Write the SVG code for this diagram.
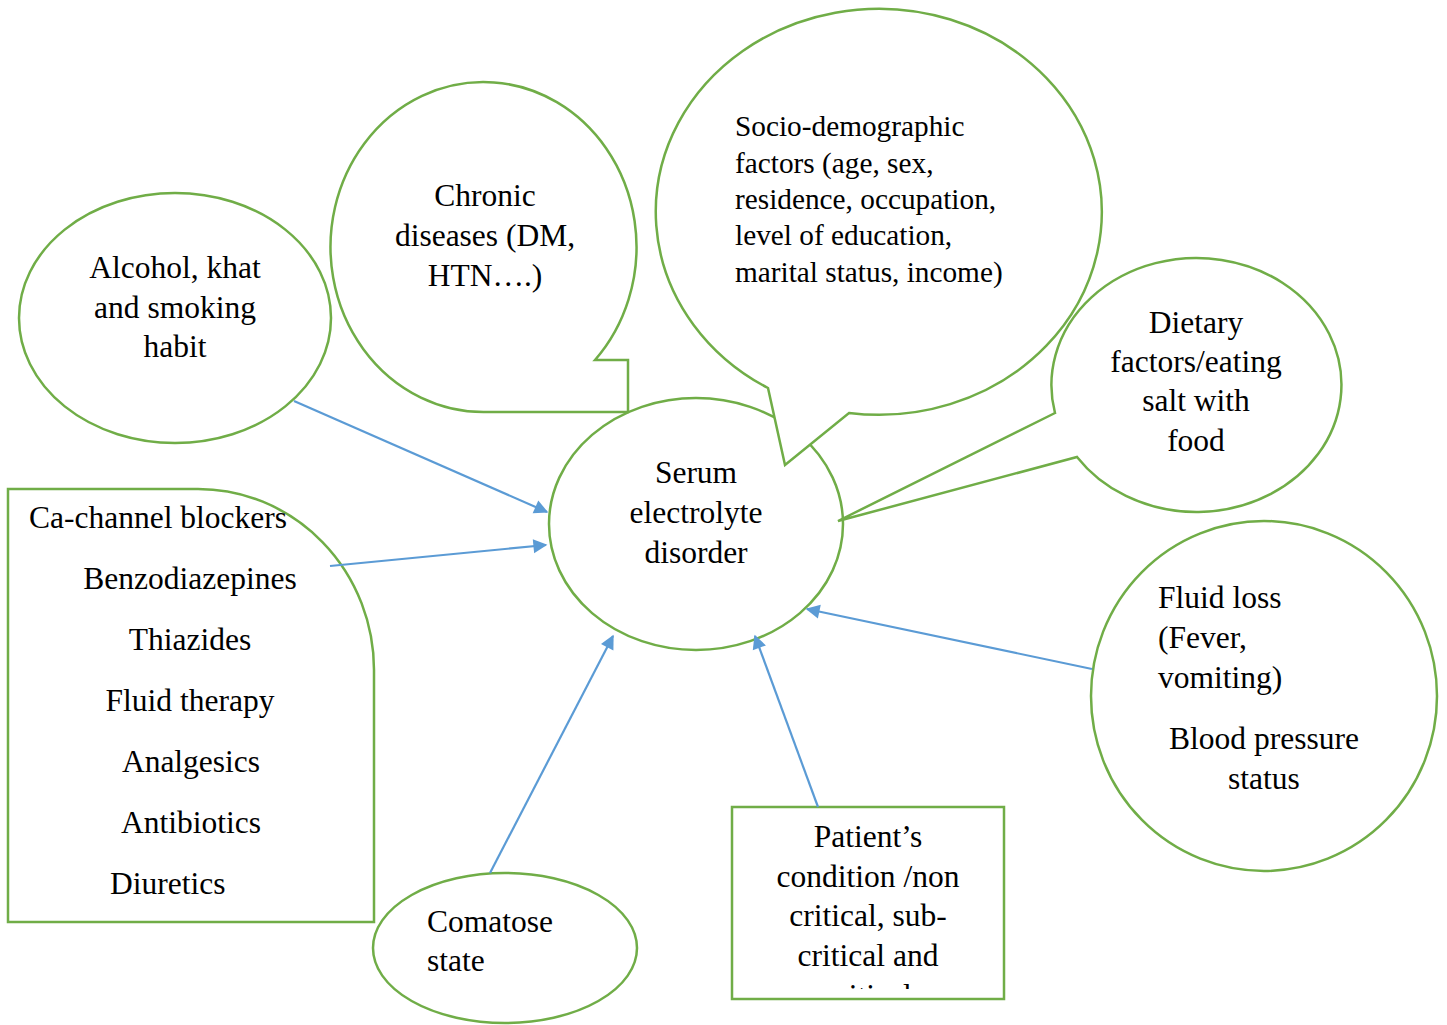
<svg xmlns="http://www.w3.org/2000/svg" width="1447" height="1025" viewBox="0 0 1447 1025">
<style>
.n{fill:#fff;stroke:#70AD47;stroke-width:2.5}
.t{font-family:"Liberation Serif","Times New Roman",serif;font-size:31.5px;fill:#000}
.s{font-size:29.3px}
.c{text-anchor:middle}
.e{stroke:#5B9BD5;stroke-width:2.2;fill:none;marker-end:url(#ah)}
</style>
<defs>
<marker id="ah" viewBox="0 0 10 10" refX="9" refY="5" markerWidth="8" markerHeight="7" markerUnits="userSpaceOnUse" orient="auto" style="overflow:visible">
<path d="M0,0 L10,5 L0,10 z" fill="#5B9BD5" transform="scale(2) translate(-4.5,-2.5)"/>
</marker>
<clipPath id="pc"><rect x="732" y="807" width="272" height="182"/></clipPath>
</defs>
<rect width="1447" height="1025" fill="#fff"/>
<g id="serum">
<ellipse class="n" cx="696" cy="524" rx="147" ry="126"/>
<text class="t c" x="696" y="483">Serum</text>
<text class="t c" x="696" y="523">electrolyte</text>
<text class="t c" x="696" y="563">disorder</text>
</g>
<g id="chronic">
<path class="n" d="M595,360 L628,360 L628,412 L485,412 A153,165 0 1 1 595,360 Z"/>
<text class="t c" x="485" y="206">Chronic</text>
<text class="t c" x="485" y="246">diseases (DM,</text>
<text class="t c" x="485" y="286">HTN….)</text>
</g>
<g id="socio">
<path class="n" d="M768,388 L785,465 L849,413 A223,203 0 1 0 768,388 Z"/>
<text class="t s" x="735" y="136">Socio-demographic</text>
<text class="t s" x="735" y="173">factors (age, sex,</text>
<text class="t s" x="735" y="209">residence, occupation,</text>
<text class="t s" x="735" y="245">level of education,</text>
<text class="t s" x="735" y="282">marital status, income)</text>
</g>
<g id="dietary">
<path class="n" d="M1055,413 L838,521 L1077,457 A145,127 0 1 0 1055,413 Z"/>
<text class="t c" x="1196" y="333">Dietary</text>
<text class="t c" x="1196" y="372">factors/eating</text>
<text class="t c" x="1196" y="411">salt with</text>
<text class="t c" x="1196" y="451">food</text>
</g>
<g id="alcohol">
<ellipse class="n" cx="175" cy="318" rx="156" ry="125"/>
<text class="t c" x="175" y="278">Alcohol, khat</text>
<text class="t c" x="175" y="318">and smoking</text>
<text class="t c" x="175" y="357">habit</text>
</g>
<g id="drugs">
<path class="n" d="M8,489 L198,489 A176,181 0 0 1 374,670 L374,922 L8,922 Z"/>
<text class="t" x="29" y="528">Ca-channel blockers</text>
<text class="t c" x="190" y="589">Benzodiazepines</text>
<text class="t c" x="190" y="650">Thiazides</text>
<text class="t c" x="190" y="711">Fluid therapy</text>
<text class="t c" x="191" y="772">Analgesics</text>
<text class="t c" x="191" y="833">Antibiotics</text>
<text class="t" x="110" y="894">Diuretics</text>
</g>
<g id="fluid">
<ellipse class="n" cx="1264" cy="696" rx="173" ry="175"/>
<text class="t" x="1158" y="608">Fluid loss</text>
<text class="t" x="1158" y="648">(Fever,</text>
<text class="t" x="1158" y="688">vomiting)</text>
<text class="t c" x="1264" y="749">Blood pressure</text>
<text class="t c" x="1264" y="789">status</text>
</g>
<g id="comatose">
<ellipse class="n" cx="505" cy="948" rx="132" ry="75"/>
<text class="t" x="427" y="932">Comatose</text>
<text class="t" x="427" y="971">state</text>
</g>
<g id="patient">
<rect class="n" x="732" y="807" width="272" height="192"/>
<g clip-path="url(#pc)">
<text class="t c" x="868" y="847">Patient’s</text>
<text class="t c" x="868" y="887">condition /non</text>
<text class="t c" x="868" y="926">critical, sub-</text>
<text class="t c" x="868" y="966">critical and</text>
<text class="t c" x="868" y="1006">critical</text>
</g>
</g>
<g id="connectors">
<line class="e" x1="294" y1="401" x2="547" y2="512"/>
<line class="e" x1="330" y1="566" x2="546" y2="545"/>
<line class="e" x1="490" y1="873" x2="613" y2="636"/>
<line class="e" x1="818" y1="807" x2="755" y2="636"/>
<line class="e" x1="1092" y1="669" x2="807" y2="609"/>
</g>
</svg>
